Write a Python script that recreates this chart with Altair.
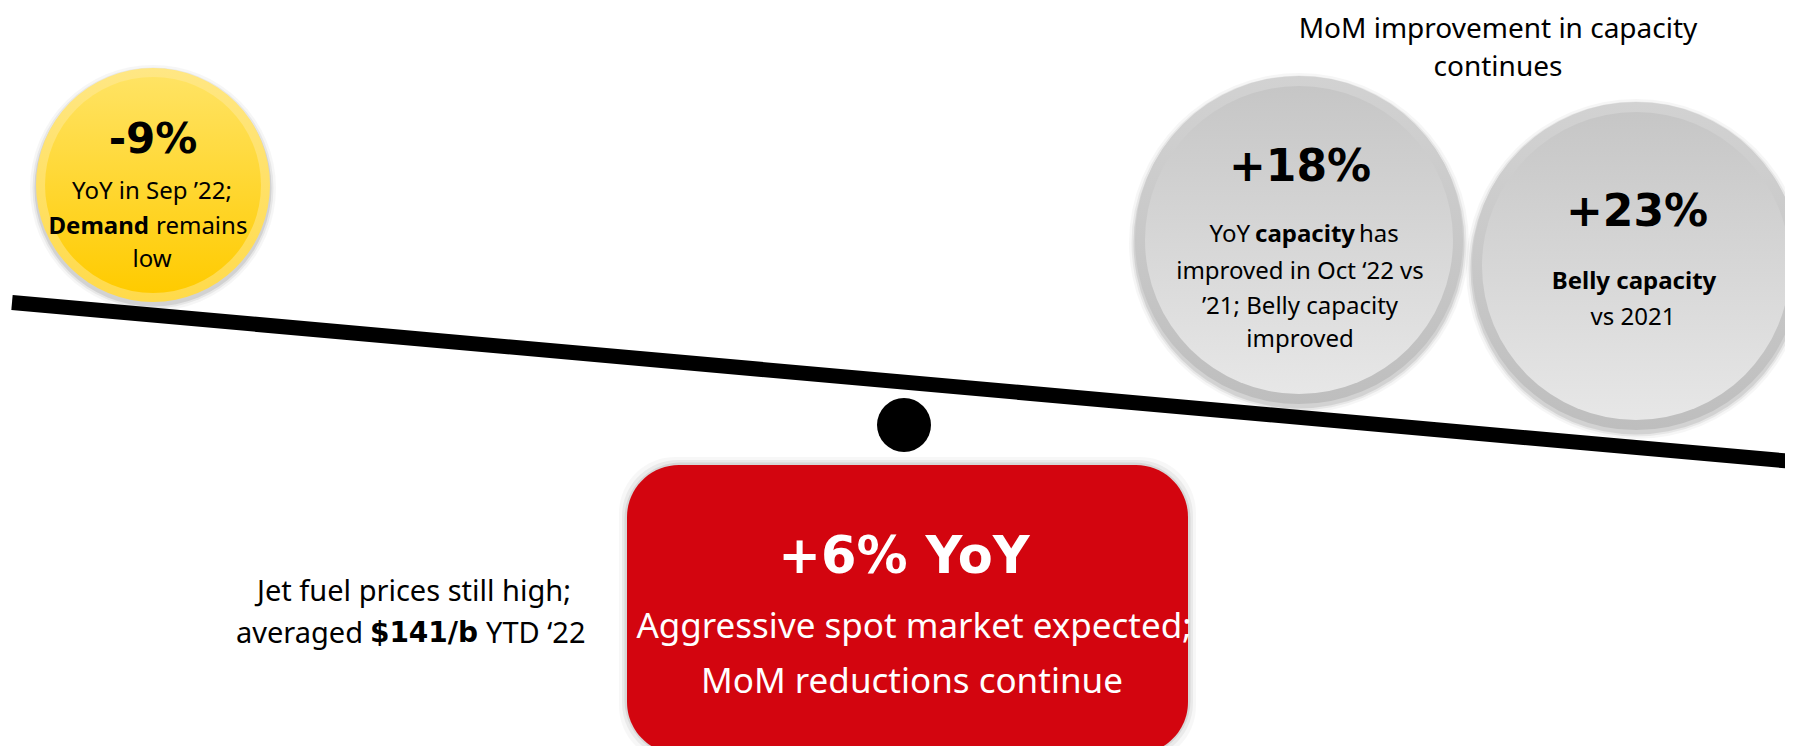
import altair as alt
import pandas as pd

# ---------------- content of the graphic ----------------
demand_value = "-9%"
capacity_value = "+18%"
belly_value = "+23%"
rate_value = "+6% YoY"

header_lines = ["MoM improvement in capacity", "continues"]
demand_lines = ["YoY in Sep ’22;", "Demand", "remains", "low"]
capacity_lines = ["YoY", "capacity", "has", "improved in Oct ‘22 vs", "’21; Belly capacity", "improved"]
belly_lines = ["Belly capacity", "vs 2021"]
fuel_lines = ["Jet fuel prices still high;", "averaged", "$141/b", "YTD ‘22"]
rate_lines = ["Aggressive spot market expected;", "MoM reductions continue"]

# ---------------- canvas layout (canvas units) ----------------
X0, X1, Y0, Y1 = 8, 1785, 8, 746
W, H = X1 - X0, Y1 - Y0

bubbles = pd.DataFrame({
    "name": ["demand", "capacity", "belly"],
    "cx": [153, 1299, 1636],
    "cy": [185, 240, 266],
    "r": [117, 164, 164],
    "ring": [9, 10, 10],
})
beam = pd.DataFrame({"x": [12], "y": [302.5], "x2": [1793], "y2": [461.5]})
pivot = pd.DataFrame({"cx": [904], "cy": [425], "r": [27]})
box = pd.DataFrame({"x": [627], "x2": [1188], "y": [465], "y2": [754]})

BLACK, WHITE = "#000000", "#ffffff"
NOTO, DEJA = "Noto Sans", "DejaVu Sans"
segments = pd.DataFrame([
    # text, x, y, size, weight, align, colour, font
    (header_lines[0], 1498, 30, 28, "normal", "center", BLACK, NOTO),
    (header_lines[1], 1498, 68, 28, "normal", "center", BLACK, NOTO),
    (demand_value, 153, 140, 42, "bold", "center", BLACK, DEJA),
    (demand_lines[0], 152, 192, 24, "normal", "center", BLACK, NOTO),
    (demand_lines[1], 149, 227, 24, "bold", "right", BLACK, NOTO),
    (demand_lines[2], 156, 227, 24, "normal", "left", BLACK, NOTO),
    (demand_lines[3], 152, 260, 24, "normal", "center", BLACK, NOTO),
    (capacity_value, 1300, 168, 44, "bold", "center", BLACK, DEJA),
    (capacity_lines[0], 1250, 235, 24, "normal", "right", BLACK, NOTO),
    (capacity_lines[1], 1305, 235, 24, "bold", "center", BLACK, NOTO),
    (capacity_lines[2], 1359, 235, 24, "normal", "left", BLACK, NOTO),
    (capacity_lines[3], 1300, 272, 24, "normal", "center", BLACK, NOTO),
    (capacity_lines[4], 1300, 307, 24, "normal", "center", BLACK, NOTO),
    (capacity_lines[5], 1300, 340, 24, "normal", "center", BLACK, NOTO),
    (belly_value, 1637, 213, 44, "bold", "center", BLACK, DEJA),
    (belly_lines[0], 1634, 282, 24, "bold", "center", BLACK, NOTO),
    (belly_lines[1], 1633, 318, 24, "normal", "center", BLACK, NOTO),
    (fuel_lines[0], 414, 592, 29, "normal", "center", BLACK, NOTO),
    (fuel_lines[1], 363, 634, 29, "normal", "right", BLACK, NOTO),
    (fuel_lines[2], 424, 634, 28, "bold", "center", BLACK, DEJA),
    (fuel_lines[3], 486, 634, 29, "normal", "left", BLACK, NOTO),
    (rate_value, 904, 558, 51, "bold", "center", WHITE, DEJA),
    (rate_lines[0], 914, 627, 35, "normal", "center", WHITE, NOTO),
    (rate_lines[1], 912, 682, 35, "normal", "center", WHITE, NOTO),
], columns=["text", "x", "y", "size", "weight", "align", "color", "font"])

# ---------------- scales ----------------
xs = alt.Scale(domain=[X0, X1], nice=False, zero=False)
ys = alt.Scale(domain=[Y0, Y1], nice=False, zero=False, reverse=True)


def X(f):
    return alt.X(f, type="quantitative", scale=xs, axis=None)


def Y(f):
    return alt.Y(f, type="quantitative", scale=ys, axis=None)


def vgrad(top, bottom):
    return alt.Gradient(gradient="linear", x1=0, y1=0, x2=0, y2=1,
                        stops=[alt.GradientStop(color=top, offset=0),
                               alt.GradientStop(color=bottom, offset=1)])


# soft shadows for bubbles
sh_rows = []
for _, b in bubbles.iterrows():
    for extra, op in [(6, 0.035), (3.5, 0.06), (1.5, 0.09)]:
        sh_rows.append({"cx": b.cx, "cy": b.cy + 3, "s": (2 * (b.r + extra)) ** 2, "op": op})
shadows = pd.DataFrame(sh_rows)

bubbles["s_outer"] = (2 * bubbles["r"]) ** 2
bubbles["s_inner"] = (2 * (bubbles["r"] - bubbles["ring"])) ** 2
yellow = bubbles[bubbles.name == "demand"]
grey = bubbles[bubbles.name != "demand"]
pivot["s"] = (2 * pivot["r"]) ** 2

layers = []
layers.append(alt.Chart(shadows).mark_point(shape="circle", filled=True, color="#000000", strokeWidth=0).encode(
    x=X("cx"), y=Y("cy"), size=alt.Size("s:Q", scale=None, legend=None),
    opacity=alt.Opacity("op:Q", scale=None, legend=None)))

for df, ring, inner in [(yellow, vgrad("#FFE784", "#FFDA4A"), vgrad("#FFE363", "#FFCB00")),
                        (grey, vgrad("#D2D2D2", "#BEBEBE"), vgrad("#C6C6C6", "#E7E7E7"))]:
    layers.append(alt.Chart(df).mark_point(shape="circle", filled=True, fill=ring, strokeWidth=0, opacity=1).encode(
        x=X("cx"), y=Y("cy"), size=alt.Size("s_outer:Q", scale=None, legend=None)))
    layers.append(alt.Chart(df).mark_point(shape="circle", filled=True, fill=inner, strokeWidth=0, opacity=1).encode(
        x=X("cx"), y=Y("cy"), size=alt.Size("s_inner:Q", scale=None, legend=None)))

# soft shadow of the red box
box_sh = pd.DataFrame([
    {"x": box.x[0] - e, "x2": box.x2[0] + e, "y": box.y[0] - e, "y2": box.y2[0] + e, "op": op}
    for e, op in [(8, 0.03), (5, 0.05), (2.5, 0.08)]
])
layers.append(alt.Chart(box_sh).mark_rect(color="#000000", cornerRadius=56).encode(
    x=X("x"), x2="x2", y=Y("y"), y2="y2", opacity=alt.Opacity("op:Q", scale=None, legend=None)))
layers.append(alt.Chart(box).mark_rect(color="#D3050F", cornerRadius=52, opacity=1).encode(
    x=X("x"), x2="x2", y=Y("y"), y2="y2"))

layers.append(alt.Chart(beam).mark_rule(color="#000000", strokeWidth=15, strokeCap="butt").encode(
    x=X("x"), x2="x2", y=Y("y"), y2="y2"))
layers.append(alt.Chart(pivot).mark_point(shape="circle", filled=True, color="#000000", strokeWidth=0, opacity=1).encode(
    x=X("cx"), y=Y("cy"), size=alt.Size("s:Q", scale=None, legend=None)))

for (weight, align, font), df in segments.groupby(["weight", "align", "font"]):
    layers.append(alt.Chart(df).mark_text(font=font, fontWeight=weight, align=align, baseline="middle").encode(
        x=X("x"), y=Y("y"), text="text:N",
        size=alt.Size("size:Q", scale=None, legend=None),
        color=alt.Color("color:N", scale=None, legend=None)))

chart = alt.layer(*layers).properties(
    width=W, height=H, padding=0, background="white",
    autosize=alt.AutoSizeParams(type="none")
).configure_view(stroke=None)

chart.save("out.html", embed_options={"renderer": "svg", "actions": False})
